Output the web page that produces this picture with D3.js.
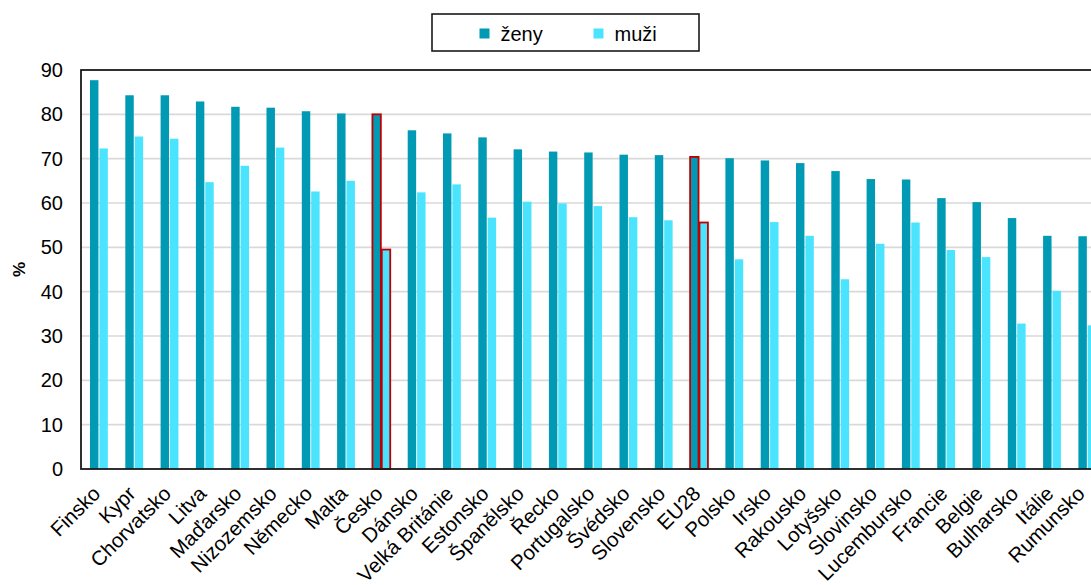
<!DOCTYPE html>
<html>
<head>
<meta charset="utf-8">
<script src="https://cdn.jsdelivr.net/npm/d3@7"></script>
<style>
  html, body { margin: 0; padding: 0; background: #fff; overflow: hidden; }
  svg { display: block; font-family: "Liberation Sans", Arial, sans-serif; }
</style>
</head>
<body>
<svg id="chart" width="1091" height="585"></svg>
<script>
const categories = ["Finsko","Kypr","Chorvatsko","Litva","Maďarsko","Nizozemsko","Německo","Malta","Česko","Dánsko","Velká Británie","Estonsko","Španělsko","Řecko","Portugalsko","Švédsko","Slovensko","EU28","Polsko","Irsko","Rakousko","Lotyšsko","Slovinsko","Lucembursko","Francie","Belgie","Bulharsko","Itálie","Rumunsko"];
const zeny = [87.7,84.3,84.3,82.9,81.7,81.5,80.7,80.2,80.0,76.4,75.7,74.8,72.1,71.6,71.4,70.9,70.8,70.4,70.1,69.6,69.0,67.2,65.4,65.3,61.1,60.2,56.6,52.6,52.5];
const muzi = [72.3,75.0,74.5,64.7,68.4,72.5,62.6,65.0,49.5,62.4,64.2,56.7,60.3,59.9,59.3,56.8,56.1,55.6,47.3,55.7,52.6,42.8,50.8,55.6,49.4,47.8,32.8,40.2,32.4];
const highlighted = ["Česko","EU28"];
const seriesNames = ["ženy","muži"];
const yTicks = [0,10,20,30,40,50,60,70,80,90];

const colors = {"ženy":"#009AB4","muži":"#4BE4FF"};

const svg = d3.select("#chart");
const plotLeft = 81, plotTop = 70, plotBottom = 469;
const step = 35.3;
const plotRight = plotLeft + step * categories.length;

const x0 = d3.scaleBand().domain(categories).range([plotLeft, plotRight]).padding(0);
const bw = x0.bandwidth();
const x1 = d3.scaleBand().domain(seriesNames).range([bw*0.255, bw*0.76]).paddingInner(0.1).paddingOuter(0);
const y = d3.scaleLinear().domain([0,90]).range([plotBottom, plotTop]);

// gridlines
svg.append("g").selectAll("line").data(yTicks.filter(t => t > 0 && t < 90)).join("line")
  .attr("x1", plotLeft).attr("x2", plotRight)
  .attr("y1", d => y(d)).attr("y2", d => y(d))
  .attr("stroke", "#D9D9D9").attr("stroke-width", 1.6);

// bars
const data = categories.map((c,i) => ({cat:c, vals:[{s:"ženy", v:zeny[i]},{s:"muži", v:muzi[i]}]}));
const groups = svg.append("g").selectAll("g").data(data).join("g")
  .attr("transform", d => `translate(${x0(d.cat)},0)`);
groups.selectAll("rect").data(d => d.vals.map(v => ({...v, cat:d.cat}))).join("rect")
  .attr("x", d => x1(d.s))
  .attr("width", x1.bandwidth())
  .attr("y", d => y(d.v))
  .attr("height", d => y(0) - y(d.v))
  .attr("fill", d => colors[d.s])
  .attr("stroke", d => highlighted.includes(d.cat) ? "#C00000" : "none")
  .attr("stroke-width", 1.8);

// frame
svg.append("rect").attr("x", plotLeft).attr("y", plotTop).attr("width", plotRight-plotLeft).attr("height", plotBottom-plotTop)
  .attr("fill","none").attr("stroke","#1a1a1a").attr("stroke-width",1.8);

// y axis
const yAxis = d3.axisLeft(y).tickValues(yTicks).tickSize(0).tickPadding(18);
const ya = svg.append("g").attr("transform", `translate(${plotLeft},0)`).call(yAxis);
ya.select(".domain").remove();
ya.selectAll("text").attr("font-size", 20).attr("fill", "#000")
  .attr("font-family", "Liberation Sans, Arial, sans-serif");

svg.append("text").attr("transform", `translate(25,${(plotTop+plotBottom)/2}) rotate(-90)`)
  .attr("text-anchor","middle").attr("font-weight","bold").attr("font-size",17).text("%");

// x axis labels
const xAxis = d3.axisBottom(x0).tickSize(0).tickPadding(0);
const xa = svg.append("g").attr("transform", `translate(0,${plotBottom})`).call(xAxis);
xa.select(".domain").remove();
const lastCat = categories[categories.length - 1];
xa.selectAll("text")
  .attr("font-size", 20.5).attr("fill","#000")
  .attr("font-family", "Liberation Sans, Arial, sans-serif")
  .attr("text-anchor","end")
  .attr("dy", null)
  .attr("y", 0)
  .attr("transform", d => d === lastCat ? "translate(-1,26) rotate(-45)" : "translate(3,26) rotate(-45)");

// legend
const lg = svg.append("g");
lg.append("rect").attr("x",432).attr("y",14).attr("width",267).attr("height",37)
  .attr("fill","#fff").attr("stroke","#1a1a1a").attr("stroke-width",1.6);
const legendX = {"ženy":479.5,"muži":593.5};
seriesNames.forEach(s => {
  lg.append("rect").attr("x",legendX[s]).attr("y",28.5).attr("width",10).attr("height",10).attr("fill",colors[s]);
  lg.append("text").attr("x",legendX[s]+21).attr("y",41).attr("font-size",20).text(s);
});
</script>
</body>
</html>
